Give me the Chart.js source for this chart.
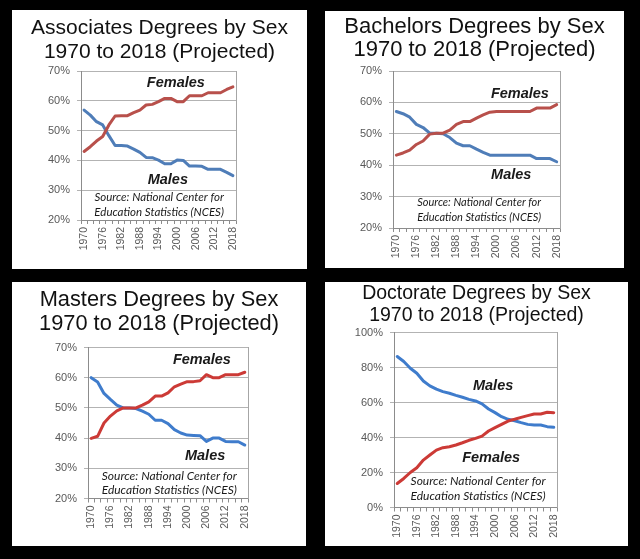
<!DOCTYPE html>
<html>
<head>
<meta charset="utf-8">
<script src="https://cdn.jsdelivr.net/npm/chart.js@4.4.1/dist/chart.umd.min.js"></script>
<style>
  html, body { margin: 0; padding: 0; background: #000; width: 640px; height: 559px; overflow: hidden; }
  .panel { position: absolute; background: #fff; }
  .panel canvas { display: block; }
</style>
</head>
<body>
<div class="panel" id="p1" style="left:12px;top:10px;width:295px;height:259px"><canvas id="c1"></canvas></div>
<div class="panel" id="p2" style="left:325px;top:11px;width:299px;height:257px"><canvas id="c2"></canvas></div>
<div class="panel" id="p3" style="left:12px;top:282px;width:294px;height:264px"><canvas id="c3"></canvas></div>
<div class="panel" id="p4" style="left:325px;top:282px;width:303px;height:264px"><canvas id="c4"></canvas></div>
<script>
// ---------- DATA ----------
const years = ['1970','1972','1974','1976','1978','1980','1982','1984','1986','1988','1990','1992','1994',
               '1996','1998','2000','2002','2004','2006','2008','2010','2012','2014','2016','2018'];

const assocFemales = [43,44.6,46.5,48,51.9,54.9,55,55,56,56.9,58.6,58.8,59.7,60.8,60.8,59.7,59.7,61.7,61.7,61.7,62.7,62.7,62.7,63.8,64.7];
const assocMales   = [56.9,55.2,53,51.9,48.3,45,45,44.8,43.8,42.7,41,40.9,40.1,38.9,38.9,40.1,40,38.1,38.1,38,37,37,37,36,34.9];

const bachFemales = [43.2,43.9,44.8,46.6,47.7,49.9,50.2,50.2,51.2,53,53.9,53.9,55,56,56.9,57.1,57.1,57.1,57.1,57.1,57.1,58.2,58.2,58.2,59.3];
const bachMales   = [57.1,56.4,55.3,53,52,50.2,50.2,50,48.8,47,46.2,46.2,45.1,44.1,43.2,43.2,43.2,43.2,43.2,43.2,43.2,42.1,42.1,42.1,41.1];

const mastFemales = [39.9,40.6,45,47.3,49,50,50,50,50.9,52,53.9,53.9,55,57,57.9,58.7,58.7,59,61,60,60,61,61,61,61.8];
const mastMales   = [60,58.6,54.8,52.8,50.9,50,50,49.8,48.9,47.9,45.9,45.9,44.8,42.8,41.7,41,40.9,40.8,38.9,40,40,38.9,38.8,38.8,37.7];

const docMales   = [86.3,83.4,79.6,76.7,72.3,69.5,67.6,66.2,65.3,64.1,63,61.8,60.9,59.2,56.3,54.2,51.9,50.4,49.6,48.5,47.5,47.1,47.1,46.2,45.8];
const docFemales = [13.7,16.6,20,22.7,27.1,30,32.8,34.2,34.7,35.7,37,38.4,39.5,40.8,43.7,45.6,47.5,49.4,50.4,51.5,52.5,53.4,53.4,54.4,54.2];

const titles = [
  ['Associates Degrees by Sex', '1970 to 2018 (Projected)'],
  ['Bachelors Degrees by Sex', '1970 to 2018 (Projected)'],
  ['Masters Degrees by Sex', '1970 to 2018 (Projected)'],
  ['Doctorate Degrees by Sex', '1970 to 2018 (Projected)']
];
const sourceLines = ['Source: National Center for', 'Education Statistics (NCES)'];

// ---------- PLUGINS ----------
const notes = {
  id: 'notes',
  afterDatasetsDraw(chart, args, opts) {
    const ctx = chart.ctx, xs = chart.scales.x, ys = chart.scales.y;
    ctx.save();
    ctx.textAlign = 'center';
    ctx.textBaseline = 'middle';
    (opts.items || []).forEach(it => {
      ctx.font = it.font;
      ctx.fillStyle = it.color;
      ctx.fillText(it.text, xs.getPixelForValue(it.x), ys.getPixelForValue(it.y));
    });
    ctx.restore();
  }
};

// ---------- BUILD ----------
function makePanel(canvasId, o) {
  const labelFont = { family: 'Liberation Sans, Arial, sans-serif', size: 11 };
  const items = [
    { text: 'Females', x: o.fem[0], y: o.fem[1], font: 'italic bold 14.5px "Liberation Sans", Arial, sans-serif', color: '#1a1a1a' },
    { text: 'Males', x: o.mal[0], y: o.mal[1], font: 'italic bold 14.5px "Liberation Sans", Arial, sans-serif', color: '#1a1a1a' },
    { text: sourceLines[0], x: o.src[0], y: o.src[1], font: 'italic ' + o.srcSize + 'px Lato, "Open Sans", sans-serif', color: '#1a1a1a' },
    { text: sourceLines[1], x: o.src[0], y: o.src[2], font: 'italic ' + o.srcSize + 'px Lato, "Open Sans", sans-serif', color: '#1a1a1a' }
  ];
  return new Chart(document.getElementById(canvasId), {
    type: 'line',
    data: {
      labels: years,
      datasets: [
        { label: 'Females', data: o.females, borderColor: o.red, borderWidth: 3, pointRadius: 0, tension: 0, borderJoinStyle: 'round', borderCapStyle: 'round' },
        { label: 'Males', data: o.males, borderColor: o.blue, borderWidth: 3, pointRadius: 0, tension: 0, borderJoinStyle: 'round', borderCapStyle: 'round' }
      ]
    },
    options: {
      responsive: true,
      maintainAspectRatio: false,
      animation: false,
      events: [],
      layout: { padding: 0 },
      plugins: {
        legend: { display: false },
        tooltip: { enabled: false },
        title: {
          display: true,
          text: o.title,
          color: '#111',
          font: { family: 'Liberation Sans, Arial, sans-serif', size: o.titleSize, weight: 'normal', lineHeight: o.titleLH + 'px' },
          padding: { top: o.titleTop, bottom: o.titleBottom }
        },
        notes: { items }
      },
      scales: {
        x: {
          type: 'category',
          offset: true,
          grid: { drawOnChartArea: false, drawTicks: true, tickLength: 4, offset: true, color: '#8c8c8c' },
          border: { color: '#8c8c8c', width: 1 },
          ticks: {
            autoSkip: false, maxRotation: 90, minRotation: 90, padding: 3,
            color: '#595959', font: { family: 'Liberation Sans, Arial, sans-serif', size: 10.5 },
            callback: function (v, i) { return i % 3 === 0 ? this.getLabelForValue(v) : ''; }
          },
          afterFit: s => { s.height = o.xH; }
        },
        y: {
          min: o.min, max: o.max,
          grid: { color: '#b3b3b3', tickLength: 4, drawTicks: true },
          border: { color: '#8c8c8c', width: 1 },
          ticks: {
            stepSize: o.step, padding: 7, color: '#595959', font: labelFont,
            callback: v => v + '%'
          },
          afterFit: s => { s.width = o.yW; }
        },
        yRight: {
          position: 'right',
          min: o.min, max: o.max,
          grid: { drawOnChartArea: false, drawTicks: false },
          border: { color: '#a6a6a6', width: 1 },
          ticks: { display: false },
          afterFit: s => { s.width = o.padRight; }
        }
      }
    },
    plugins: [notes]
  });
}

makePanel('c1', {
  title: titles[0], titleSize: 21, titleLH: 24, titleTop: 6, titleBottom: 7,
  females: assocFemales, males: assocMales, red: '#b8504b', blue: '#4f7db8',
  min: 20, max: 70, step: 10, yW: 69, xH: 49, padRight: 71,
  fem: [14.8, 66.0], mal: [13.5, 33.4], src: [12.1, 27.7, 22.7], srcSize: 11.5
});
makePanel('c2', {
  title: titles[1], titleSize: 22, titleLH: 23, titleTop: 4.5, titleBottom: 9.5,
  females: bachFemales, males: bachMales, red: '#b8504b', blue: '#4f7db8',
  min: 20, max: 70, step: 10, yW: 68, xH: 40, padRight: 64,
  fem: [18.5, 62.7], mal: [17.2, 36.9], src: [12.4, 28.0, 23.5], srcSize: 11
});
makePanel('c3', {
  title: titles[2], titleSize: 21.8, titleLH: 24, titleTop: 6, titleBottom: 11.5,
  females: mastFemales, males: mastMales, red: '#cc3a36', blue: '#3f7ccc',
  min: 20, max: 70, step: 10, yW: 76, xH: 47.5, padRight: 58,
  fem: [17.3, 65.9], mal: [17.8, 34.1], src: [12.2, 27.4, 22.8], srcSize: 12
});
makePanel('c4', {
  title: titles[3], titleSize: 19.5, titleLH: 22, titleTop: 1, titleBottom: 5.5,
  females: docFemales, males: docMales, red: '#cc3a36', blue: '#3f7ccc',
  min: 0, max: 100, step: 20, yW: 69, xH: 38.5, padRight: 71,
  fem: [14.4, 28.3], mal: [14.7, 69.4], src: [12.4, 15.1, 6.6], srcSize: 12
});
</script>
</body>
</html>
